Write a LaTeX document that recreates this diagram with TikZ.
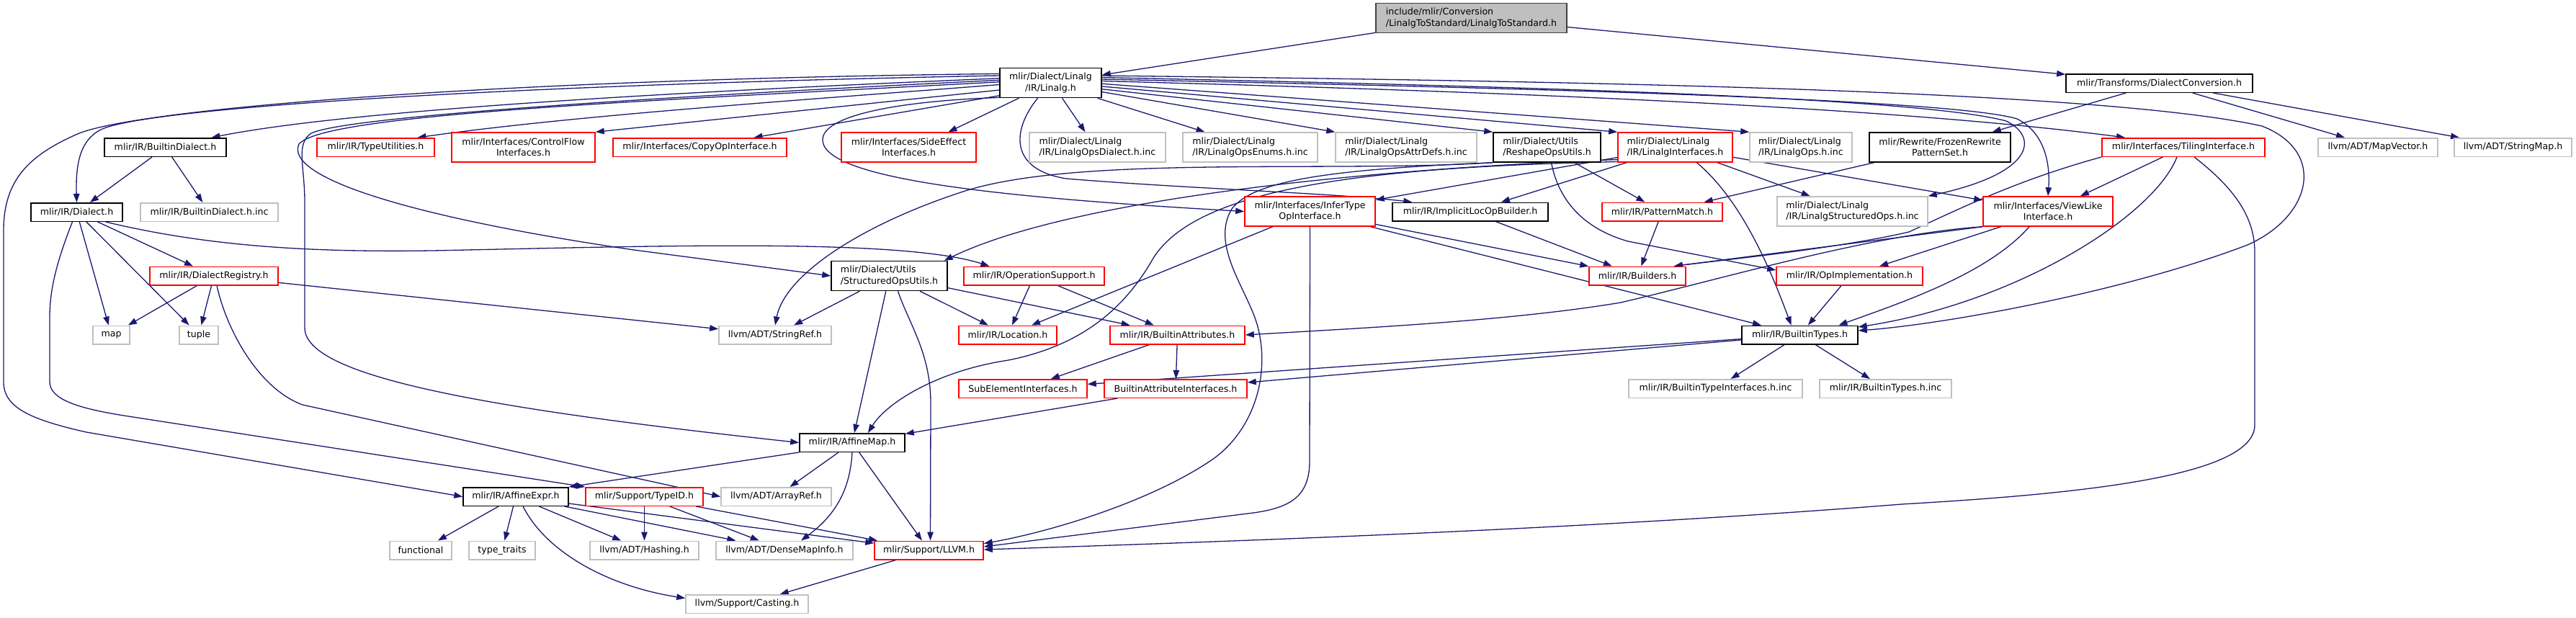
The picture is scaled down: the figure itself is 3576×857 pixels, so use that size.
\documentclass[tikz,border=0pt]{standalone}
\usepackage{fontspec}
\usepackage{tikz}
\usetikzlibrary{arrows.meta,backgrounds}
\newfontfamily\dxsans{DejaVu Sans}
\definecolor{DxEdge}{HTML}{191970}
\definecolor{DxGrey}{HTML}{BFBFBF}
\definecolor{DxRed}{HTML}{FF0000}
\definecolor{DxDark}{HTML}{404040}
\tikzset{
  file/.style={draw,line width=1.5pt,fill=white,inner sep=0pt,align=center,
    minimum height=25.5pt,font=\dxsans\fontsize{12.6}{15.2}\selectfont},
  twoline/.style={minimum height=41pt},
  docfile/.style={file,draw=black},
  truncfile/.style={file,draw=DxRed},
  extfile/.style={file,draw=DxGrey},
  hdrfile/.style={file,draw=DxDark,fill=DxGrey},
  incl/.style={-{Triangle[length=12pt,width=8.5pt]},line width=1.3pt,draw=DxEdge}
}

\begin{document}
\begin{tikzpicture}[x=1pt,y=-1pt]
  \useasboundingbox (0,0) rectangle (3576,857);
  % top rows
  \node[hdrfile,twoline,align=left,minimum width=265pt] (top) at (2042.5,25) {include/mlir/Conversion\\/LinalgToStandard/LinalgToStandard.h};
  \node[docfile,twoline,minimum width=141pt] (linalg) at (1458.5,115) {mlir/Dialect/Linalg\\/IR/Linalg.h};
  \node[docfile,minimum width=259pt] (dconv) at (2997.5,115.5) {mlir/Transforms/DialectConversion.h};
  \node[docfile,minimum width=169pt] (bdialect) at (229.5,204.5) {mlir/IR/BuiltinDialect.h};
  \node[truncfile,minimum width=163pt] (typeutil) at (521.5,204.5) {mlir/IR/TypeUtilities.h};
  \node[truncfile,twoline,minimum width=199pt] (ctrlflow) at (726.5,204.5) {mlir/Interfaces/ControlFlow\\Interfaces.h};
  \node[truncfile,minimum width=241pt] (copyop) at (971.5,204.5) {mlir/Interfaces/CopyOpInterface.h};
  \node[truncfile,twoline,minimum width=187pt] (sideeff) at (1261.5,204.5) {mlir/Interfaces/SideEffect\\Interfaces.h};
  \node[extfile,twoline,align=left,minimum width=189pt] (opsdialect) at (1523.5,204.5) {mlir/Dialect/Linalg\\/IR/LinalgOpsDialect.h.inc};
  \node[extfile,twoline,align=left,minimum width=187pt] (opsenums) at (1735.5,204.5) {mlir/Dialect/Linalg\\/IR/LinalgOpsEnums.h.inc};
  \node[extfile,twoline,align=left,minimum width=196pt] (attrdefs) at (1952,204.5) {mlir/Dialect/Linalg\\/IR/LinalgOpsAttrDefs.h.inc};
  \node[docfile,twoline,align=left,minimum width=149pt] (reshape) at (2147.5,204.5) {mlir/Dialect/Utils\\/ReshapeOpsUtils.h};
  \node[truncfile,twoline,align=left,minimum width=159pt] (linalgif) at (2325.5,204.5) {mlir/Dialect/Linalg\\/IR/LinalgInterfaces.h};
  \node[extfile,twoline,align=left,minimum width=142pt] (opsinc) at (2500,204.5) {mlir/Dialect/Linalg\\/IR/LinalgOps.h.inc};
  \node[docfile,twoline,minimum width=196pt] (frozen) at (2693,204.5) {mlir/Rewrite/FrozenRewrite\\PatternSet.h};
  \node[truncfile,minimum width=226pt] (tiling) at (3031,204.5) {mlir/Interfaces/TilingInterface.h};
  \node[extfile,minimum width=166pt] (mapvec) at (3301,204.5) {llvm/ADT/MapVector.h};
  \node[extfile,minimum width=163pt] (strmap) at (3488.5,204.5) {llvm/ADT/StringMap.h};
  % middle rows
  \node[docfile,minimum width=127pt] (dialect) at (106.5,294.5) {mlir/IR/Dialect.h};
  \node[extfile,minimum width=191pt] (bdialinc) at (290.5,294.5) {mlir/IR/BuiltinDialect.h.inc};
  \node[truncfile,twoline,minimum width=181pt] (infertype) at (1818.5,293.5) {mlir/Interfaces/InferType\\OpInterface.h};
  \node[docfile,minimum width=216pt] (implicit) at (2041,294) {mlir/IR/ImplicitLocOpBuilder.h};
  \node[truncfile,minimum width=167pt] (patmatch) at (2307.5,294) {mlir/IR/PatternMatch.h};
  \node[extfile,twoline,align=left,minimum width=209pt] (structinc) at (2571.5,293.5) {mlir/Dialect/Linalg\\/IR/LinalgStructuredOps.h.inc};
  \node[truncfile,twoline,minimum width=180pt] (viewlike) at (2843,293.5) {mlir/Interfaces/ViewLike\\Interface.h};
  \node[truncfile,minimum width=178pt] (dregistry) at (297,383) {mlir/IR/DialectRegistry.h};
  \node[docfile,twoline,align=left,minimum width=161pt] (structutils) at (1234.5,383) {mlir/Dialect/Utils\\/StructuredOpsUtils.h};
  \node[truncfile,minimum width=195pt] (opsupport) at (1435.5,383) {mlir/IR/OperationSupport.h};
  \node[truncfile,minimum width=134pt] (builders) at (2273,383) {mlir/IR/Builders.h};
  \node[truncfile,minimum width=203pt] (opimpl) at (2567.5,383) {mlir/IR/OpImplementation.h};
  \node[extfile,minimum width=51pt] (map) at (154.5,465) {map};
  \node[extfile,minimum width=54pt] (tuple) at (276,465) {tuple};
  \node[extfile,minimum width=156pt] (stringref) at (1076,465) {llvm/ADT/StringRef.h};
  \node[truncfile,minimum width=136pt] (location) at (1399,465) {mlir/IR/Location.h};
  \node[truncfile,minimum width=187pt] (battrs) at (1634.5,465) {mlir/IR/BuiltinAttributes.h};
  \node[docfile,minimum width=161pt] (btypes) at (2498.5,465) {mlir/IR/BuiltinTypes.h};
  \node[truncfile,minimum width=178pt] (subelem) at (1420,539.5) {SubElementInterfaces.h};
  \node[truncfile,minimum width=198pt] (battrif) at (1632,539.5) {BuiltinAttributeInterfaces.h};
  \node[extfile,minimum width=241pt] (btypeifinc) at (2381.5,539.5) {mlir/IR/BuiltinTypeInterfaces.h.inc};
  \node[extfile,minimum width=183pt] (btypesinc) at (2617.5,539.5) {mlir/IR/BuiltinTypes.h.inc};
  % bottom rows
  \node[docfile,minimum width=146pt] (affinemap) at (1183,614.5) {mlir/IR/AffineMap.h};
  \node[docfile,minimum width=146pt] (affineexpr) at (716,689.5) {mlir/IR/AffineExpr.h};
  \node[truncfile,minimum width=163pt] (typeid) at (894.5,689.5) {mlir/Support/TypeID.h};
  \node[extfile,minimum width=153pt] (arrayref) at (1077.5,689.5) {llvm/ADT/ArrayRef.h};
  \node[extfile,minimum width=86pt] (functional) at (584,764) {functional};
  \node[extfile,minimum width=92pt] (typetraits) at (697,764) {type\_traits};
  \node[extfile,minimum width=151pt] (hashing) at (894.5,764) {llvm/ADT/Hashing.h};
  \node[extfile,minimum width=190pt] (densemap) at (1089,764) {llvm/ADT/DenseMapInfo.h};
  \node[truncfile,minimum width=151pt] (llvm) at (1289.5,764) {mlir/Support/LLVM.h};
  \node[extfile,minimum width=170pt] (casting) at (1037,838.5) {llvm/Support/Casting.h};

  \begin{scope}[on background layer]
  \draw[incl] (top) -- (linalg);
  \draw[incl] (top) -- (dconv);
  % Linalg.h, left side
  \draw[incl] (linalg.170) .. controls (700,110) and (200,150) .. (110,185) .. controls (40,215) and (5,250) .. (5,320) -- (5,530) .. controls (5,565) and (40,582) .. (120,600) -- (affineexpr.west);
  \draw[incl] (linalg.172) .. controls (700,118) and (200,150) .. (140,180) .. controls (110,195) and (105,230) .. (dialect.north);
  \draw[incl] (linalg.175) .. controls (1000,125) and (500,150) .. ([xshift=64pt]bdialect.north);
  \draw[incl] (linalg.177) .. controls (900,135) and (480,162) .. (432,185) .. controls (410,200) and (423,230) .. (423,280) -- (423,455) .. controls (423,520) and (650,565) .. (affinemap.west);
  \draw[incl] (linalg.179) .. controls (900,140) and (450,158) .. (415,200) .. controls (395,245) and (560,300) .. (880,347) -- (structutils.west);
  \draw[incl] (linalg.182) .. controls (1100,140) and (800,160) .. ([xshift=58pt]typeutil.north);
  \draw[incl] (linalg.188) -- (ctrlflow.north east);
  \draw[incl] (linalg.194) -- ([xshift=75pt]copyop.north);
  \draw[incl] (linalg.196) .. controls (1250,140) and (1140,160) .. (1142,195) .. controls (1145,250) and (1400,275) .. (infertype.west);
  % Linalg.h, bottom
  \draw[incl] ([xshift=-44pt]linalg.south) -- ([xshift=55pt]sideeff.north);
  \draw[incl] ([xshift=-18pt]linalg.south) .. controls (1405,180) and (1400,235) .. (1480,248) .. controls (1650,262) and (1850,268) .. ([xshift=28pt]implicit.north west);
  \draw[incl] ([xshift=16pt]linalg.south) -- ([xshift=-17pt]opsdialect.north);
  \draw[incl] ([xshift=65pt]linalg.south) -- ([xshift=-63pt]opsenums.north);
  % Linalg.h, right side
  \draw[incl] (linalg.-10) -- (attrdefs.north west);
  \draw[incl] (linalg.-7) -- (reshape.north west);
  \draw[incl] (linalg.-4) -- (linalgif.north west);
  \draw[incl] (linalg.-1) -- (opsinc.north west);
  \draw[incl] (linalg.2) .. controls (2000,125) and (2600,145) .. ([xshift=-81pt]tiling.north);
  \draw[incl] (linalg.4) .. controls (2000,120) and (2700,135) .. (2800,165) .. controls (2840,185) and (2846,230) .. (viewlike.north);
  \draw[incl] (linalg.6) .. controls (2000,118) and (2650,132) .. (2785,168) .. controls (2830,190) and (2825,240) .. (structinc.north east);
  \draw[incl] (linalg.8) .. controls (2100,112) and (2900,122) .. (3140,175) .. controls (3230,210) and (3210,300) .. (3120,340) .. controls (2950,405) and (2700,450) .. ([yshift=6pt]btypes.east);
  % DialectConversion.h
  \draw[incl] (dconv) -- (frozen);
  \draw[incl] (dconv) -- (mapvec);
  \draw[incl] (dconv) -- (strmap);
  % dialect group
  \draw[incl] (bdialect) -- (dialect);
  \draw[incl] (bdialect) -- (bdialinc);
  \draw[incl] (dialect) -- (dregistry);
  \draw[incl] (dialect) -- (map);
  \draw[incl] (dialect) -- (tuple);
  \draw[incl] ([xshift=40pt]dialect.south) .. controls (300,345) and (450,350) .. (600,348) .. controls (900,342) and (1250,330) .. ([xshift=-62pt]opsupport.north);
  \draw[incl] ([xshift=-6pt]dialect.south) .. controls (80,360) and (69,400) .. (69,440) -- (69,530) .. controls (69,555) and (110,567) .. (172,577) -- (typeid.north west);
  \draw[incl] (dregistry) -- (map);
  \draw[incl] (dregistry) -- (tuple);
  \draw[incl] (dregistry) -- (stringref);
  \draw[incl] ([xshift=4pt]dregistry.south) .. controls (315,460) and (360,540) .. (420,562) -- (arrayref.west);
  % utils and interfaces
  \draw[incl] (reshape) -- (patmatch);
  \draw[incl] ([xshift=6pt]reshape.south) .. controls (2162,270) and (2190,315) .. (2260,335) -- ([yshift=8pt]opimpl.west);
  \draw[incl] (reshape.south west) .. controls (1850,240) and (1500,215) .. (1340,265) .. controls (1200,310) and (1090,380) .. (stringref.north);
  \draw[incl] (reshape.south west) .. controls (1850,235) and (1740,250) .. (1710,290) .. controls (1680,340) and (1730,400) .. (1745,450) .. controls (1765,520) and (1740,600) .. (1680,640) .. controls (1590,700) and (1450,740) .. ([yshift=-4pt]llvm.north east);
  \draw[incl] (linalgif) -- (implicit);
  \draw[incl] (linalgif) -- (infertype);
  \draw[incl] (linalgif.192) .. controls (1950,232) and (1500,270) .. ([xshift=-5pt]structutils.north east);
  \draw[incl] (linalgif.194) .. controls (1900,232) and (1660,260) .. (1600,360) .. controls (1560,430) and (1500,480) .. (1400,500) .. controls (1300,515) and (1230,560) .. ([xshift=22pt]affinemap.north);
  \draw[incl] (linalgif) -- (structinc);
  \draw[incl] (linalgif) -- (viewlike);
  \draw[incl] ([xshift=30pt]linalgif.south) .. controls (2420,280) and (2460,380) .. ([xshift=-12pt]btypes.north);
  \draw[incl] (frozen) -- (patmatch);
  \draw[incl] (implicit) -- (builders);
  \draw[incl] (patmatch) -- (builders);
  \draw[incl] (structutils) -- (affinemap);
  \draw[incl] (structutils) -- (stringref);
  \draw[incl] ([xshift=12pt]structutils.south) .. controls (1262,450) and (1292,490) .. (1292,560) -- ([xshift=2pt]llvm.north);
  \draw[incl] (structutils) -- (location);
  \draw[incl] (structutils) -- (battrs);
  \draw[incl] (opsupport) -- (location);
  \draw[incl] (opsupport) -- (battrs);
  \draw[incl] (infertype) -- (location);
  \draw[incl] (infertype) -- (builders);
  \draw[incl] (infertype) -- (btypes);
  \draw[incl] (infertype.south) -- (1818,640) .. controls (1818,690) and (1790,705) .. (1740,712) -- ([yshift=5pt]llvm.east);
  \draw[incl] (tiling) -- (viewlike);
  \draw[incl] ([xshift=-9pt]tiling.south) .. controls (2990,300) and (2800,420) .. ([yshift=11pt]btypes.east);
  \draw[incl] ([xshift=15pt]tiling.south) .. controls (3100,260) and (3130,300) .. (3130,350) -- (3130,590) .. controls (3130,660) and (2900,685) .. (2640,700) .. controls (2200,735) and (1700,752) .. ([yshift=1pt]llvm.east);
  \draw[incl] (tiling.south west) .. controls (2800,250) and (2720,290) .. (2650,322) .. controls (2550,345) and (2400,360) .. ([xshift=-17pt]builders.north east);
  \draw[incl] (viewlike.south west) -- ([xshift=-17pt]builders.north east);
  \draw[incl] (viewlike.south west) .. controls (2600,325) and (2400,385) .. (2250,420) .. controls (2100,445) and (1900,455) .. (battrs.east);
  \draw[incl] (viewlike) -- (opimpl);
  \draw[incl] ([xshift=-26pt]viewlike.south) .. controls (2760,380) and (2640,420) .. ([xshift=54pt]btypes.north);
  \draw[incl] (opimpl) -- (btypes);
  % builtin types and attributes
  \draw[incl] (btypes) -- (subelem);
  \draw[incl] (btypes) -- (battrif);
  \draw[incl] (btypes) -- (btypeifinc);
  \draw[incl] (btypes) -- (btypesinc);
  \draw[incl] (battrs) -- (subelem);
  \draw[incl] (battrs) -- (battrif);
  \draw[incl] (battrif) -- (affinemap);
  % affine and support
  \draw[incl] (affinemap.south west) -- (affineexpr.north east);
  \draw[incl] (affinemap) -- (arrayref);
  \draw[incl] (affinemap.south) .. controls (1180,680) and (1160,715) .. ([xshift=23pt]densemap.north);
  \draw[incl] (affinemap) -- (llvm);
  \draw[incl] (affineexpr) -- (functional);
  \draw[incl] (affineexpr) -- (typetraits);
  \draw[incl] (affineexpr) -- (hashing);
  \draw[incl] (affineexpr) -- (densemap);
  \draw[incl] (affineexpr) -- (llvm);
  \draw[incl] ([xshift=10pt]affineexpr.south) .. controls (760,770) and (850,815) .. ([yshift=8pt]casting.west);
  \draw[incl] (typeid) -- (hashing);
  \draw[incl] (typeid) -- (densemap);
  \draw[incl] (typeid) -- (llvm);
  \draw[incl] (llvm) -- (casting);
  \end{scope}
\end{tikzpicture}
\end{document}
